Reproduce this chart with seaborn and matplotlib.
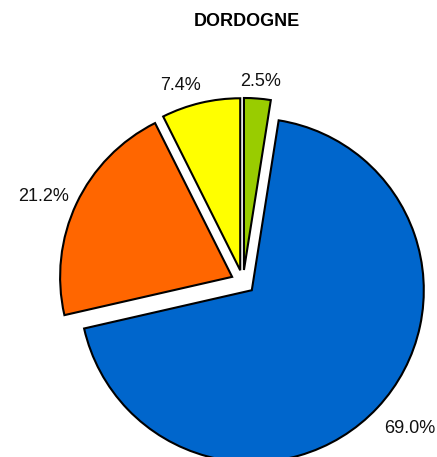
import numpy as np
import matplotlib
matplotlib.use("Agg")
import matplotlib.pyplot as plt
import seaborn as sns

# data (clockwise from 12 o'clock)
categories = ["Catégorie A", "Catégorie B", "Catégorie C", "Catégorie D"]
shares = [2.5, 69.0, 21.2, 7.4]
colors = ["#99CC00", "#0066CC", "#FF6600", "#FFFF00"]
title = "DORDOGNE"

# layout / style (not data): label radius and small angular nudge per wedge
label_dist = [1.112, 1.211, 1.195, 1.142]
label_nudge = [-0.4, 2.2, 1.6, 4.5]
explode = [0.07] * len(shares)


def main():
    sns.set_style("white")
    plt.rcParams["font.family"] = ["Liberation Sans", "DejaVu Sans"]
    plt.rcParams["text.color"] = "black"

    fig = plt.figure(figsize=(4.37, 4.57), dpi=100)
    ax = fig.add_axes([0, 0, 1, 1])

    wedges, texts = ax.pie(
        shares,
        labels=[f"{v:.1f}%" for v in shares],
        colors=colors,
        explode=explode,
        startangle=90,
        counterclock=False,
        normalize=True,
        wedgeprops=dict(edgecolor="black", linewidth=1.5),
        textprops=dict(fontsize=13, color="#111111"),
    )

    # put each label centred near the wedge's bisector
    for w, t, d, n in zip(wedges, texts, label_dist, label_nudge):
        mid = np.deg2rad((w.theta1 + w.theta2) / 2 + n)
        cx, cy = w.center
        t.set_position((cx + d * np.cos(mid), cy + d * np.sin(mid)))
        t.set_ha("center")
        t.set_va("center_baseline")

    # pie centre sits at pixel (243, 282) with radius ~172 px
    ax.set_aspect("auto")
    ax.set_xlim(-243 / 172, (437 - 243) / 172)
    ax.set_ylim(-(457 - 282) / 172, 282 / 172)
    ax.axis("off")

    fig.text(247 / 437, 1 - 21.5 / 457, title, ha="center", va="center",
             fontsize=13, fontweight="bold", color="black")

    fig.savefig("out.png", dpi=100, facecolor="white")
    plt.close(fig)


if __name__ == "__main__":
    main()
